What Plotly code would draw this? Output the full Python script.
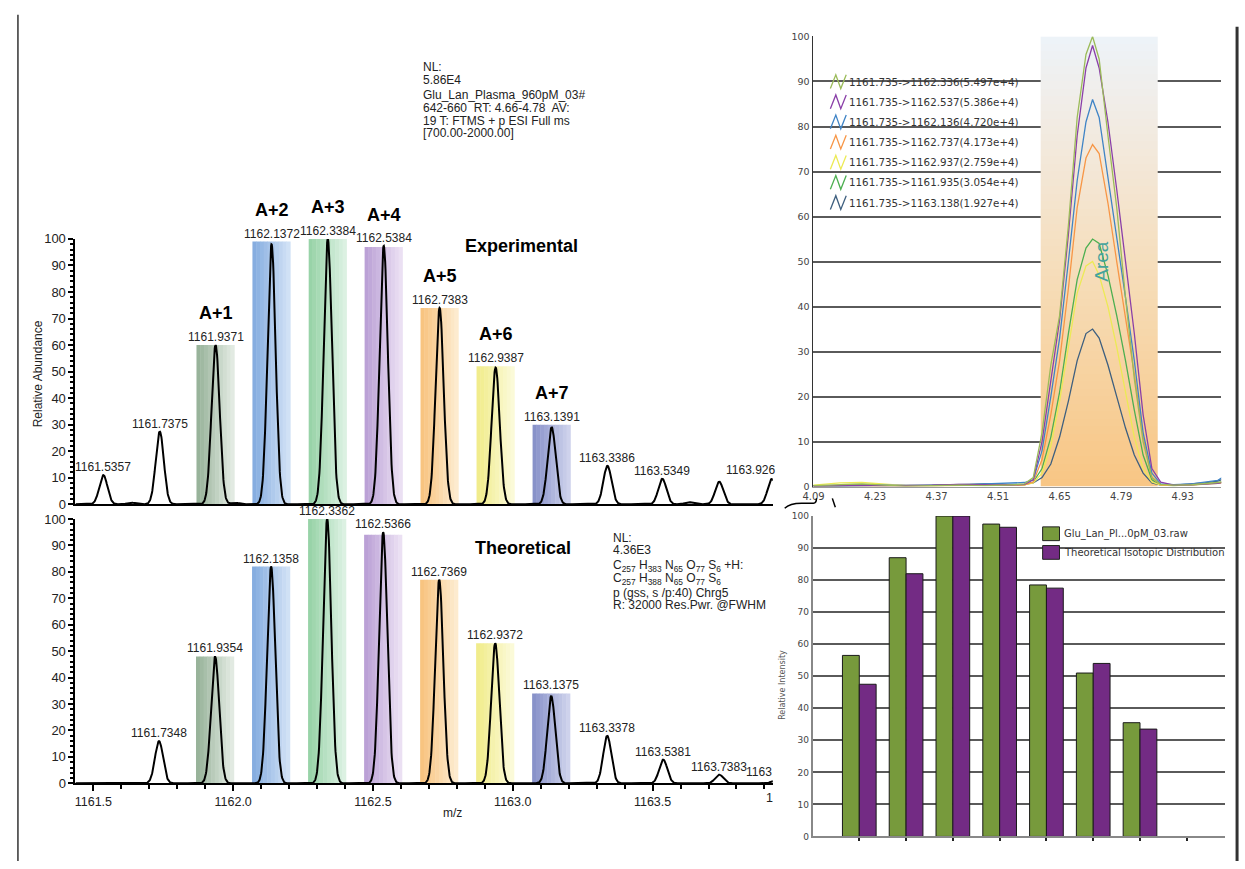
import numpy as np
import plotly.graph_objects as go

W, H = 1245, 869
def px(x): return x / W
def py(y): return 1 - y / H

# ---------------- DATA ----------------
# Experimental spectrum (m/z, relative abundance)
exp_mz = [1161.5357, 1161.635, 1161.7375, 1161.9371, 1162.007, 1162.1372, 1162.3384, 1162.5384,
          1162.7383, 1162.9387, 1163.1391, 1163.3386, 1163.5349, 1163.63, 1163.7383, 1163.926]
exp_int = [11, 0.6, 27.4, 60, 0.6, 98, 100, 97.4, 74, 51.5, 29, 14.5, 9.6, 0.8, 8.5, 9.5]
exp_lab = ["1161.5357", "", "1161.7375", "1161.9371", "", "1162.1372", "1162.3384", "1162.5384",
           "1162.7383", "1162.9387", "1163.1391", "1163.3386", "1163.5349", "", "", ""]

# Theoretical spectrum
th_mz = [1161.7348, 1161.9354, 1162.1358, 1162.3362, 1162.5366, 1162.7369, 1162.9372, 1163.1375,
         1163.3378, 1163.5381, 1163.7383, 1163.9386]
th_int = [16, 48, 82, 100, 95, 77, 53, 33, 18, 9, 3.3, 1]
th_lab = ["1161.7348", "1161.9354", "1162.1358", "1162.3362", "1162.5366", "1162.7369", "1162.9372",
          "1163.1375", "1163.3378", "1163.5381", "1163.7383", ""]

# Isotope highlight bars
iso_names = ["A+1", "A+2", "A+3", "A+4", "A+5", "A+6", "A+7"]
iso_exp_mz = [1161.9371, 1162.1372, 1162.3384, 1162.5384, 1162.7383, 1162.9387, 1163.1391]
iso_exp_h = [60, 99, 100, 97, 74, 52, 30]
iso_th_mz = [1161.9354, 1162.1358, 1162.3362, 1162.5366, 1162.7369, 1162.9372, 1163.1375]
iso_th_h = [48, 82, 100, 94, 77, 53, 34]
iso_dark = ["#98b39a", "#86ade0", "#98d3a8", "#bba1d6", "#f8c480", "#f1ec8c", "#8892c9"]
iso_light = ["#e2eae2", "#d0e1f5", "#dcf1e2", "#ebe0f3", "#fdebcf", "#fbfad8", "#ced2ec"]

# Extracted ion chromatograms
rt = [4.09, 4.15, 4.20, 4.25, 4.30, 4.36, 4.42, 4.48, 4.53, 4.57, 4.59,
      4.61, 4.63, 4.65, 4.67, 4.69, 4.71, 4.725, 4.74, 4.76, 4.78, 4.80, 4.82, 4.84, 4.86,
      4.88, 4.91, 4.95, 4.98, 5.01, 5.02]
xic_names = ["1161.735->1162.336(5.497e+4)", "1161.735->1162.537(5.386e+4)",
             "1161.735->1162.136(4.720e+4)", "1161.735->1162.737(4.173e+4)",
             "1161.735->1162.937(2.759e+4)", "1161.735->1161.935(3.054e+4)",
             "1161.735->1163.138(1.927e+4)"]
xic_colors = ["#9bbb59", "#8a3fa8", "#3f84c6", "#f79646", "#ecea55", "#4caf50", "#3e5f7f"]
xic_olive = [0.2, 0.4, 0.6, 0.3, 0.1, 0.2, 0.3, 0.2, 0.3, 0.6, 2,
             12, 27, 38, 58, 82, 96, 100, 95, 78, 62, 42, 24, 10, 2,
             0.5, 0.3, 0.4, 0.6, 0.9, 1.1]
xic_purple = [0.1, 0.2, 0.3, 0.2, 0.2, 0.3, 0.5, 0.4, 0.3, 0.5, 1.5,
              10, 24, 37, 56, 78, 93, 98, 93, 81, 66, 50, 34, 16, 4,
              1, 0.3, 0.4, 0.5, 0.7, 0.9]
xic_blue = [0.2, 0.1, 0.2, 0.3, 0.2, 0.2, 0.3, 0.6, 0.8, 0.9, 1.5,
            8, 20, 33, 50, 68, 81, 86, 82, 69, 56, 42, 28, 12, 3,
            0.6, 0.4, 0.6, 1.0, 1.4, 2.0]
xic_orange = [0.1, 0.2, 0.2, 0.2, 0.1, 0.2, 0.2, 0.3, 0.3, 0.4, 1,
              6, 16, 28, 44, 62, 73, 76, 74, 63, 50, 38, 25, 11, 2,
              0.4, 0.3, 0.4, 0.6, 0.8, 0.9]
xic_yellow = [0.3, 0.8, 0.9, 0.5, 0.2, 0.2, 0.2, 0.3, 0.3, 0.4, 0.8,
              3, 9, 19, 31, 43, 49, 50, 47, 40, 31, 21, 11, 4, 1,
              0.3, 0.2, 0.3, 0.5, 0.7, 0.8]
xic_green = [0.1, 0.3, 0.4, 0.3, 0.2, 0.2, 0.3, 0.4, 0.4, 0.4, 1,
             4, 11, 21, 34, 46, 53, 55, 54, 47, 38, 28, 17, 7, 1.5,
             0.3, 0.2, 0.4, 0.6, 0.9, 1.0]
xic_slate = [0.1, 0.1, 0.2, 0.2, 0.2, 0.3, 0.5, 0.6, 0.4, 0.5, 0.8,
             2, 5, 11, 19, 28, 34, 35, 33, 27, 20, 13, 7, 3, 0.8,
             0.3, 0.3, 0.5, 0.8, 1.2, 1.6]
xic_values = [xic_olive, xic_purple, xic_blue, xic_orange, xic_yellow, xic_green, xic_slate]
area_rt = [4.607, 4.873]
rt_ticks = [4.09, 4.23, 4.37, 4.51, 4.65, 4.79, 4.93]

# Isotopic distribution comparison
bar_cat = [1, 2, 3, 4, 5, 6, 7]
bar_exp = [56.5, 87, 100, 97.5, 78.5, 51, 35.5]
bar_th = [47.5, 82, 100, 96.5, 77.5, 54, 33.5]
bar_names = ["Glu_Lan_Pl...0pM_03.raw", "Theoretical Isotopic Distribution"]
bar_colors = ["#779a3c", "#732b84"]

# ---------------- FIGURE ----------------
ARIAL = "Liberation Sans, Arial, sans-serif"
VERD = "DejaVu Sans, Verdana, sans-serif"
xr = [1161.436, 1163.93]

fig = go.Figure()

def hex2rgb(h):
    h = h.lstrip('#')
    return [int(h[i:i + 2], 16) for i in (0, 2, 4)]

def mix(a, b, t):
    ra, rb = hex2rgb(a), hex2rgb(b)
    return "rgb(%d,%d,%d)" % tuple(round(ra[k] + (rb[k] - ra[k]) * t) for k in range(3))

def shade_bars(centers, heights, xa, ya, n=10, width=0.135):
    xs, ws, cs, hs = [], [], [], []
    for c, h, d, l in zip(centers, heights, iso_dark, iso_light):
        for j in range(n):
            xs.append(c - width / 2 + (j + 0.5) * width / n)
            ws.append(width / n * 1.12)
            cs.append(mix(d, l, j / (n - 1)))
            hs.append(h)
    fig.add_trace(go.Bar(x=xs, y=hs, width=ws, marker=dict(color=cs, line=dict(width=0)),
                         xaxis=xa, yaxis=ya, showlegend=False, hoverinfo='skip'))

shade_bars(iso_exp_mz, iso_exp_h, 'x', 'y')
shade_bars(iso_th_mz, iso_th_h, 'x2', 'y2')

sigma = 0.0145
grid = np.arange(xr[0], xr[1] + 0.001, 0.0012)
def profile(mzs, ints):
    y = np.zeros_like(grid)
    for m, i in zip(mzs, ints):
        y += i * np.exp(-0.5 * ((grid - m) / sigma) ** 2)
    return y

fig.add_trace(go.Scatter(x=grid, y=profile(exp_mz, exp_int), mode='lines',
                         line=dict(color='black', width=2), xaxis='x', yaxis='y',
                         showlegend=False, hoverinfo='skip'))
fig.add_trace(go.Scatter(x=grid, y=profile(th_mz, th_int), mode='lines',
                         line=dict(color='black', width=2), xaxis='x2', yaxis='y2',
                         showlegend=False, hoverinfo='skip'))

# Area shading (vertical gradient)
nb = 60
yb = np.linspace(0, 100, nb + 1)
zc = [[(yb[k] + yb[k + 1]) / 2] for k in range(nb)]
fig.add_trace(go.Heatmap(x=area_rt, y=yb, z=zc, zmin=0, zmax=100, showscale=False,
                         colorscale=[[0, '#f8c684'], [0.45, '#f6dcb7'], [0.8, '#f2ebe2'], [1, '#edf3f9']],
                         xaxis='x3', yaxis='y3', hoverinfo='skip'))

for vals, col in zip(xic_values[::-1], xic_colors[::-1]):
    fig.add_trace(go.Scatter(x=rt, y=vals, mode='lines', line=dict(color=col, width=1.3),
                             xaxis='x3', yaxis='y3', showlegend=False, hoverinfo='skip'))

fig.add_trace(go.Bar(x=bar_cat, y=bar_exp, offset=-0.36, width=0.36, name=bar_names[0],
                     marker=dict(color=bar_colors[0], line=dict(color='#1a1a1a', width=1)),
                     xaxis='x4', yaxis='y4', showlegend=False, hoverinfo='skip'))
fig.add_trace(go.Bar(x=bar_cat, y=bar_th, offset=0, width=0.36, name=bar_names[1],
                     marker=dict(color=bar_colors[1], line=dict(color='#1a1a1a', width=1)),
                     xaxis='x4', yaxis='y4', showlegend=False, hoverinfo='skip'))

# ---------------- ANNOTATIONS ----------------
ann = []
def txt(text, x, y, size, family=ARIAL, color='#222', xanchor='left', yanchor='middle', bold=False, angle=0):
    if bold:
        text = '<b>' + text + '</b>'
    ann.append(dict(text=text, x=px(x), y=py(y), xref='paper', yref='paper', showarrow=False,
                    xanchor=xanchor, yanchor=yanchor, textangle=angle,
                    font=dict(size=size, family=family, color=color)))

LBL = dict(size=12, family=ARIAL, color='#222')
# peak labels
for m, i, l in zip(exp_mz, exp_int, exp_lab):
    if l:
        h = i
        for cm, ch in zip(iso_exp_mz, iso_exp_h):
            if abs(cm - m) < 1e-3:
                h = max(h, ch)
        ann.append(dict(text=l, x=m, y=h, xref='x', yref='y', showarrow=False, yanchor='bottom',
                        yshift=-1, font=LBL))
for m, i, l in zip(th_mz, th_int, th_lab):
    if l:
        h = i
        for cm, ch in zip(iso_th_mz, iso_th_h):
            if abs(cm - m) < 1e-3:
                h = max(h, ch)
        ann.append(dict(text=l, x=m, y=h, xref='x2', yref='y2', showarrow=False, yanchor='bottom',
                        yshift=-1, font=LBL))
# labels clipped at the right edge of the spectrum
ann.append(dict(text="1163.926", x=exp_mz[-1], y=exp_int[-1], xref='x', yref='y', showarrow=False,
                xanchor='right', yanchor='bottom', xshift=5, font=LBL))
ann.append(dict(text="1163", x=xr[1] - 0.002, y=th_int[-1], xref='x2', yref='y2', showarrow=False,
                xanchor='right', yanchor='bottom', xshift=2, font=LBL))

for n, m, h in zip(iso_names, iso_exp_mz, iso_exp_h):
    ann.append(dict(text='<b>' + n + '</b>', x=m, y=h, xref='x', yref='y', showarrow=False,
                    yanchor='middle', yshift=32, font=dict(size=18, family=ARIAL, color='black')))

txt("Experimental", 516, 243, 18, bold=True, xanchor='center', color='black')
txt("Theoretical", 517, 550, 18, bold=True, xanchor='center', color='black')

nl_top = [("NL:", 61), ("5.86E4", 74), ("Glu_Lan_Plasma_960pM_03#", 90), ("642-660  RT: 4.66-4.78  AV:", 103),
          ("19 T: FTMS + p ESI Full ms", 116), ("[700.00-2000.00]", 128)]
for t, y in nl_top:
    txt(t, 414, y, 12)
f1 = "C<sub>257</sub> H<sub>383</sub> N<sub>65</sub> O<sub>77</sub> S<sub>6</sub> +H:"
f2 = "C<sub>257</sub> H<sub>388</sub> N<sub>65</sub> O<sub>77</sub> S<sub>6</sub>"
nl_bot = [("NL:", 540), ("4.36E3", 553), (f1, 569), (f2, 582), ("p (gss, s /p:40) Chrg5", 596),
          ("R: 32000 Res.Pwr. @FWHM", 609)]
for t, y in nl_bot:
    txt(t, 606, y, 12)

txt("Relative Abundance", 28, 373, 12, angle=-90, xanchor='center')
txt("m/z", 446, 820, 12, xanchor='center')
txt("1", 766, 805, 12.5, xanchor='center')

# chromatogram legend
shapes = []
leg_y = [76, 96.5, 117, 137.5, 158, 178.5, 199]
for name, col, y in zip(xic_names, xic_colors, leg_y):
    pts = [(827, y + 7), (832.5, y - 7), (837.5, y + 7), (843, y - 7)]
    path = "M " + " L ".join("%f,%f" % (px(a), py(b)) for a, b in pts)
    shapes.append(dict(type='path', path=path, xref='paper', yref='paper',
                       line=dict(color=col, width=1.3), layer='above'))
    txt(name, 844, y, 10.3, family=VERD, color='#333')

txt("Area", 1100, 259, 19, color='#45a39c', angle=-90, xanchor='center')

# bar legend
for name, col, y in zip(bar_names, bar_colors, [536, 555]):
    shapes.append(dict(type='rect', xref='paper', yref='paper', x0=px(1041), x1=px(1058),
                       y0=py(y + 7), y1=py(y - 7), fillcolor=col, line=dict(color='#222', width=1),
                       layer='above'))
    txt(name, 1061, y, 10, family=VERD, color='#333')
txt("Relative Intensity", 778, 690, 8, family=VERD, color='#555', angle=-90, xanchor='center')

# frame lines & artifacts
shapes.append(dict(type='line', xref='paper', yref='paper', x0=px(8), x1=px(8), y0=py(8), y1=py(869),
                   line=dict(color='#333', width=1.5)))
shapes.append(dict(type='line', xref='paper', yref='paper', x0=px(1237), x1=px(1237), y0=py(20), y1=py(869),
                   line=dict(color='#333', width=3)))
shapes.append(dict(type='path', xref='paper', yref='paper',
                   path="M %f,%f Q %f,%f %f,%f L %f,%f Q %f,%f %f,%f" % (
                       px(781), py(510), px(786), py(505), px(798), py(505), px(810), py(505),
                       px(813), py(505), px(813), py(500)),
                   line=dict(color='black', width=1.5)))
shapes.append(dict(type='line', xref='paper', yref='paper', x0=px(829), x1=px(832), y0=py(500), y1=py(509),
                   line=dict(color='black', width=1.5)))

# ---------------- LAYOUT ----------------
common_spec_y = dict(range=[0, 100], tickmode='linear', tick0=0, dtick=10, ticks='outside', ticklen=5,
                     tickwidth=2, tickcolor='black', showline=True, linecolor='black', linewidth=2,
                     showgrid=False, zeroline=False, tickfont=dict(size=13, family=ARIAL, color='#222'),
                     minor=dict(dtick=2, ticks='outside', ticklen=3, tickwidth=1.5, tickcolor='black', showgrid=False))

fig.update_layout(
    width=W, height=H, margin=dict(l=0, r=0, t=0, b=0), paper_bgcolor='white', plot_bgcolor='white',
    barmode='overlay', showlegend=False,
    xaxis=dict(domain=[px(66), px(769)], range=xr, anchor='y', showline=True, linecolor='black', linewidth=2,
               ticks='', showticklabels=False, showgrid=False, zeroline=False),
    yaxis=dict(domain=[py(506), py(236)], anchor='x', **common_spec_y),
    xaxis2=dict(domain=[px(66), px(769)], range=xr, anchor='y2', showline=True, linecolor='black', linewidth=2,
                tickmode='linear', tick0=1161.5, dtick=0.5, tickformat='.1f', ticks='outside', ticklen=6,
                tickwidth=2, tickcolor='black', showgrid=False, zeroline=False,
                tickfont=dict(size=12.5, family=ARIAL, color='#222'),
                minor=dict(dtick=0.1, ticks='outside', ticklen=4, tickwidth=1.5, tickcolor='black', showgrid=False)),
    yaxis2=dict(domain=[py(790), py(521)], anchor='x2', **common_spec_y),
    xaxis3=dict(domain=[px(809), px(1221)], range=[4.0877, 5.0177], anchor='y3', showline=True,
                linecolor='#999', linewidth=1, tickmode='array', tickvals=rt_ticks,
                ticktext=['%.2f' % v for v in rt_ticks], ticks='', showgrid=False, zeroline=False,
                tickfont=dict(size=10, family=VERD, color='#444')),
    yaxis3=dict(domain=[py(488), py(30)], range=[0, 100], anchor='x3', tickmode='linear', tick0=0, dtick=10,
                showgrid=True, gridcolor='#5a5a5a', gridwidth=1.5, showline=True, linecolor='#333', linewidth=1,
                zeroline=False, ticks='', tickfont=dict(size=9.5, family=VERD, color='#444')),
    xaxis4=dict(domain=[px(809), px(1225)], range=[0, 8.82], anchor='y4', showline=True, linecolor='#888',
                linewidth=1.5, tickmode='array', tickvals=[1, 2, 3, 4, 5, 6, 7, 8], showticklabels=False,
                ticks='outside', ticklen=3, tickwidth=2, tickcolor='#222', showgrid=False, zeroline=False),
    yaxis4=dict(domain=[py(844), py(518)], range=[0, 100], anchor='x4', tickmode='linear', tick0=0, dtick=10,
                showgrid=True, gridcolor='#5a5a5a', gridwidth=1.5, showline=True, linecolor='#888', linewidth=1.5,
                zeroline=False, ticks='', tickfont=dict(size=9, family=VERD, color='#444')),
    annotations=ann, shapes=shapes,
)

fig.write_html("out.html")
